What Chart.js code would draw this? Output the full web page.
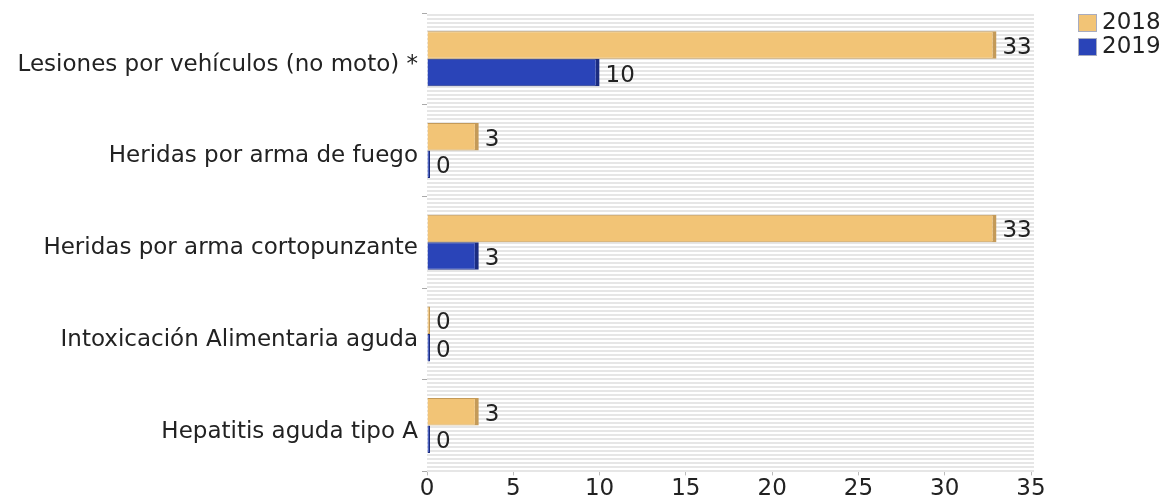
<!DOCTYPE html>
<html>
<head>
<meta charset="utf-8">
<script src="https://cdn.jsdelivr.net/npm/chart.js@4.4.1/dist/chart.umd.min.js"></script>
<style>
html,body{margin:0;padding:0;background:#fff;}
#wrap{width:1167px;height:495px;position:relative;}
</style>
</head>
<body>
<div id="wrap"><canvas id="c" width="1167" height="495"></canvas></div>
<script>
const categories = [
  "Lesiones por vehículos (no moto) *",
  "Heridas por arma de fuego",
  "Heridas por arma cortopunzante",
  "Intoxicación Alimentaria aguda",
  "Hepatitis aguda tipo A"
];
const seriesNames = ["2018", "2019"];
const values2018 = [33, 3, 33, 0, 3];
const values2019 = [10, 0, 3, 0, 0];
const xTicks = [0, 5, 10, 15, 20, 25, 30, 35];

const FONT = "'DejaVu Sans', sans-serif";
const FS = 23;

const stripes = {
  id: 'stripes',
  beforeDatasetsDraw(chart) {
    const {ctx, chartArea: a} = chart;
    ctx.save();
    ctx.fillStyle = '#ffffff';
    ctx.fillRect(a.left, a.top, a.right - a.left + 3, a.bottom - a.top);
    ctx.fillStyle = '#e6e6e6';
    for (let y = a.top + 1; y < a.bottom - 1; y += 4) {
      ctx.fillRect(a.left, y, a.right - a.left + 3, 2);
    }
    ctx.restore();
  }
};

const valueLabels = {
  id: 'valueLabels',
  afterDatasetsDraw(chart) {
    const {ctx} = chart;
    ctx.save();
    ctx.font = FS + "px " + FONT;
    ctx.fillStyle = '#222';
    ctx.textAlign = 'left';
    ctx.textBaseline = 'middle';
    chart.data.datasets.forEach((ds, i) => {
      const meta = chart.getDatasetMeta(i);
      meta.data.forEach((bar, j) => {
        ctx.fillText(String(ds.data[j]), bar.x + 6, bar.y + 3);
      });
    });
    ctx.restore();
  }
};

const customLegend = {
  id: 'customLegend',
  afterDraw(chart) {
    const {ctx} = chart;
    ctx.save();
    ctx.font = FS + "px " + FONT;
    ctx.textBaseline = 'middle';
    ctx.textAlign = 'left';
    chart.data.datasets.forEach((ds, i) => {
      const y = 14 + i * 24;
      ctx.fillStyle = ds.backgroundColor;
      ctx.fillRect(1078, y, 19, 18);
      ctx.strokeStyle = '#a8acc0';
      ctx.lineWidth = 1;
      ctx.strokeRect(1078.5, y + 0.5, 18, 17);
      ctx.fillStyle = '#222';
      ctx.fillText(ds.label, 1102, y + 9);
    });
    ctx.restore();
  }
};

new Chart(document.getElementById('c'), {
  type: 'bar',
  data: {
    labels: categories,
    datasets: [
      {
        label: seriesNames[0],
        data: values2018,
        backgroundColor: '#f2c476',
        borderColor: '#c49a58',
        borderWidth: {top: 1, bottom: 1, left: 0, right: 4},
        borderSkipped: 'start',
        minBarLength: 3
      },
      {
        label: seriesNames[1],
        data: values2019,
        backgroundColor: '#2a44b8',
        borderColor: '#1b2c80',
        borderWidth: {top: 1, bottom: 1, left: 0, right: 4},
        borderSkipped: 'start',
        minBarLength: 3
      }
    ]
  },
  options: {
    indexAxis: 'y',
    responsive: false,
    animation: false,
    devicePixelRatio: 1,
    layout: {autoPadding: false, padding: {top: 13, right: 136, bottom: -8, left: 0}},
    datasets: {bar: {categoryPercentage: 0.6, barPercentage: 1.0}},
    scales: {
      x: {
        min: 0, max: 35,
        afterBuildTicks(scale) { scale.ticks = xTicks.map(v => ({value: v})); },
        grid: {drawOnChartArea: false, drawTicks: true, tickLength: 4, color: '#bbb'},
        border: {display: true, color: '#aaa', width: 1},
        ticks: {font: {family: FONT, size: FS}, color: '#222', padding: 0, maxRotation: 0, autoSkip: false}
      },
      y: {
        afterFit(scale) { scale.width = 427; },
        grid: {drawOnChartArea: false, drawTicks: true, tickLength: 5, color: '#aaa', offset: true},
        border: {display: true, color: '#aaa', width: 1},
        ticks: {font: {family: FONT, size: FS, lineHeight: 0.5}, color: '#222', padding: 4, labelOffset: 6, autoSkip: false}
      }
    },
    plugins: {
      legend: {display: false},
      tooltip: {enabled: false}
    }
  },
  plugins: [stripes, valueLabels, customLegend]
});
</script>
</body>
</html>
